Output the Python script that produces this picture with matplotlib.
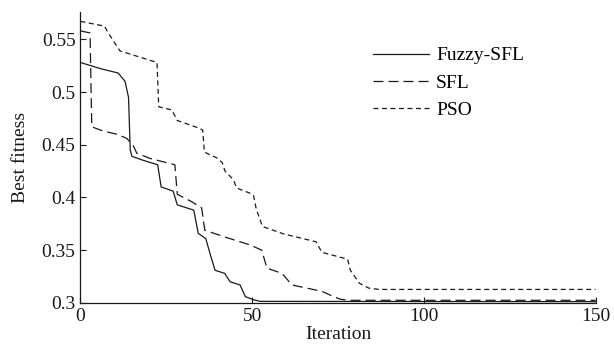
import matplotlib.pyplot as plt

plt.rcParams['font.family'] = ['Liberation Serif', 'DejaVu Serif']
plt.rcParams['font.size'] = 14

# Fuzzy-SFL curve (step-like convergence)
fuzzy_x = [0, 6, 11, 13, 14, 14.5, 15, 18.5, 22.5, 23.5, 27, 28.2, 33, 34.3,
           36.5, 37.8, 39.2, 42, 43.6, 46.5, 48, 50.4, 52.3, 150]
fuzzy_y = [0.528, 0.522, 0.518, 0.51, 0.495, 0.445, 0.439, 0.435, 0.431, 0.41,
           0.406, 0.393, 0.388, 0.366, 0.361, 0.346, 0.331, 0.328, 0.32, 0.317,
           0.306, 0.303, 0.3015, 0.3012]

# SFL curve
sfl_x = [0, 2.8, 3.3, 6.6, 10.6, 13.5, 15.4, 16.4, 20.3, 27.5, 28.2, 32.4, 35.3,
         36.2, 41.6, 44.5, 49.4, 52.8, 54.3, 58.7, 61.6, 66, 70.3, 73.7, 75.7,
         78, 150]
sfl_y = [0.558, 0.556, 0.467, 0.463, 0.46, 0.456, 0.449, 0.442, 0.437, 0.431,
         0.403, 0.396, 0.39, 0.369, 0.363, 0.36, 0.355, 0.35, 0.333, 0.328,
         0.317, 0.314, 0.311, 0.306, 0.3035, 0.3025, 0.3025]

# PSO curve
pso_x = [0, 7, 8.1, 11.5, 16.4, 22.3, 22.8, 26.6, 28.2, 34.3, 35.6, 36.1, 39.7,
         41.3, 42.1, 44.5, 45.5, 49.4, 50.4, 51.2, 53, 59.1, 68.6, 70.3, 77.8,
         78.6, 81.2, 84, 87, 150]
pso_y = [0.567, 0.5625, 0.556, 0.539, 0.534, 0.528, 0.486, 0.483, 0.473, 0.466,
         0.464, 0.443, 0.4375, 0.433, 0.425, 0.417, 0.409, 0.404, 0.402, 0.389,
         0.3725, 0.3655, 0.358, 0.348, 0.3415, 0.331, 0.3187, 0.314, 0.3128,
         0.3128]

xticks = [0, 50, 100, 150]
yticks = [0.3, 0.35, 0.4, 0.45, 0.5, 0.55]
ytick_labels = ['0.3', '0.35', '0.4', '0.45', '0.5', '0.55']

fig = plt.figure(figsize=(6.14, 3.49), dpi=100)
ax = fig.add_axes([0.131, 0.132, 0.839, 0.834])

lw = 0.9
ax.plot(fuzzy_x, fuzzy_y, color='#1a1a1a', lw=lw, label='Fuzzy-SFL')
ax.plot(sfl_x, sfl_y, color='#1a1a1a', lw=lw, dashes=(8, 4), label='SFL')
ax.plot(pso_x, pso_y, color='#1a1a1a', lw=lw, dashes=(4, 2.8), label='PSO')

ax.set_xlim(0, 150)
ax.set_ylim(0.3, 0.576)
ax.set_xticks(xticks)
ax.set_yticks(yticks)
ax.set_yticklabels(ytick_labels)
ax.tick_params(direction='in', length=4, width=0.8, colors='#1a1a1a')
ax.spines['top'].set_visible(False)
ax.spines['right'].set_visible(False)
for s in ['left', 'bottom']:
    ax.spines[s].set_linewidth(0.9)
    ax.spines[s].set_color('#1a1a1a')

ax.set_xlabel('Iteration', labelpad=1, color='#1a1a1a')
ax.set_ylabel('Best fitness', labelpad=9, color='#1a1a1a')

ax.legend(loc='upper left', bbox_to_anchor=(0.568, 0.88), frameon=False,
          borderpad=0, handlelength=2.9, handletextpad=0.35, labelspacing=0.5,
          borderaxespad=0)

fig.savefig('out.png', dpi=100)
